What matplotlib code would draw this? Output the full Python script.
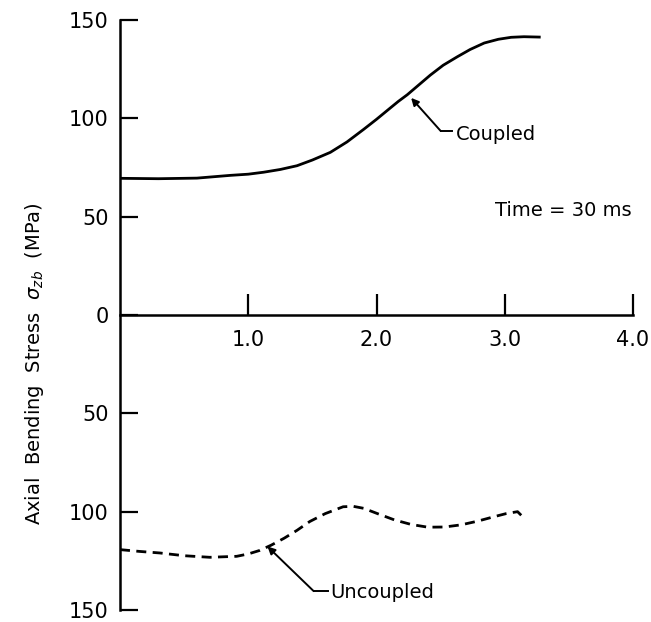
import matplotlib
matplotlib.use("Agg")
import matplotlib.pyplot as plt

# Data
coupled_x = [0.0, 0.3, 0.6, 0.86, 1.0, 1.12, 1.25, 1.38, 1.5, 1.64, 1.77, 1.90, 2.0, 2.11, 2.17,
             2.24, 2.33, 2.42, 2.52, 2.63, 2.73, 2.84, 2.95, 3.05, 3.15, 3.28]
coupled_y = [69.5, 69.3, 69.6, 71.0, 71.6, 72.6, 74.0, 75.9, 78.8, 82.7, 88.0, 94.4, 99.5, 105.4, 108.6,
             112.0, 117.0, 122.0, 127.0, 131.3, 135.0, 138.3, 140.2, 141.2, 141.5, 141.3]

uncoupled_x = [0.0, 0.15, 0.31, 0.5, 0.70, 0.91, 1.0, 1.09, 1.18, 1.28, 1.38, 1.48, 1.6, 1.74, 1.82,
               1.90, 2.02, 2.14, 2.27, 2.40, 2.53, 2.66, 2.79, 2.92, 3.01, 3.10, 3.16]
uncoupled_y = [-119.3, -120.2, -121.0, -122.4, -123.2, -122.7, -121.5, -119.7, -117.0, -113.5, -109.5,
               -105.0, -101.0, -97.5, -97.3, -98.3, -101.3, -104.2, -106.5, -107.9, -107.8, -106.7,
               -104.8, -102.5, -101.0, -100.0, -103.9]

x_ticks = [1.0, 2.0, 3.0, 4.0]
x_tick_labels = ["1.0", "2.0", "3.0", "4.0"]
y_ticks = [150, 100, 50, 0, -50, -100, -150]
y_tick_labels = ["150", "100", "50", "0", "50", "100", "150"]

plt.rcParams['font.family'] = ['DejaVu Sans']

fig = plt.figure(figsize=(6.51, 6.22), dpi=100)
ax = fig.add_axes([120/651, 1-610/622, (633-120)/651, (610-20)/622])

ax.plot(coupled_x, coupled_y, color='black', lw=2.0, solid_capstyle='butt', solid_joinstyle='round')
ax.plot(uncoupled_x, uncoupled_y, color='black', lw=2.0, dashes=(3.6, 2.3))

ax.set_xlim(0, 4.0)
ax.set_ylim(-150, 150)

for s in ['top', 'right']:
    ax.spines[s].set_visible(False)
ax.spines['bottom'].set_position(('data', 0))
ax.spines['bottom'].set_linewidth(1.8)
ax.spines['left'].set_linewidth(1.8)

ax.set_xticks(x_ticks)
ax.set_xticklabels(x_tick_labels)
ax.set_yticks(y_ticks)
ax.set_yticklabels(y_tick_labels)
ax.tick_params(axis='x', direction='in', length=15, width=1.6, pad=11, labelsize=15)
ax.tick_params(axis='y', direction='in', length=13, width=1.6, pad=8, labelsize=15)

# Annotations
ax.annotate('', xy=(2.27, 110.4), xytext=(2.50, 93.6),
            arrowprops=dict(arrowstyle='-|>', color='black', lw=1.4,
                            mutation_scale=11, shrinkA=0, shrinkB=0))
ax.plot([2.50, 2.59], [93.6, 93.6], color='black', lw=1.4)
ax.text(2.62, 92, 'Coupled', fontsize=14, va='center', ha='left')

ax.annotate('', xy=(1.15, -117.7), xytext=(1.51, -140.4),
            arrowprops=dict(arrowstyle='-|>', color='black', lw=1.4,
                            mutation_scale=11, shrinkA=0, shrinkB=0))
ax.plot([1.51, 1.62], [-140.4, -140.4], color='black', lw=1.4)
ax.text(1.64, -141.3, 'Uncoupled', fontsize=14, va='center', ha='left')

ax.text(3.46, 53, 'Time = 30 ms', fontsize=14, va='center', ha='center')

fig.text(35/651, 1-364/622, r'Axial  Bending  Stress  $\sigma_{zb}$  (MPa)',
         rotation=90, va='center', ha='center', fontsize=14)

fig.savefig('out.png', dpi=100, facecolor='white')
